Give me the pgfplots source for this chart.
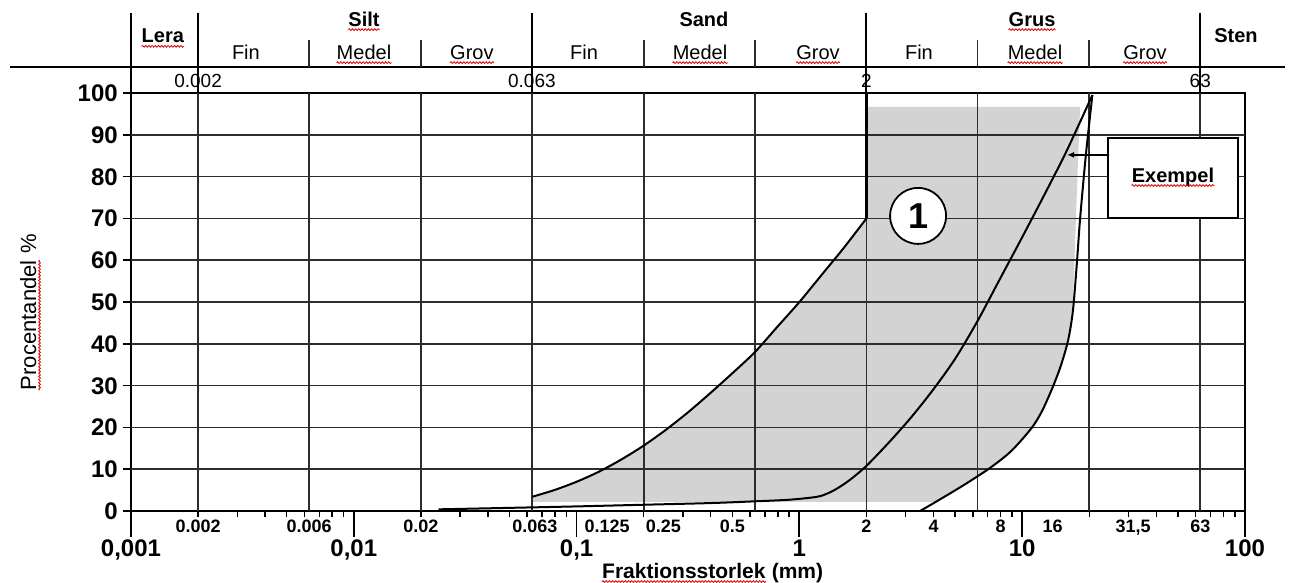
\documentclass[border=0pt]{standalone}
\usepackage{fontspec}
\setmainfont{Liberation Sans}
\usepackage{pgfplots}
\pgfplotsset{compat=1.18}
\usetikzlibrary{arrows.meta,decorations.pathmorphing}
\definecolor{zone}{RGB}{211,211,211}
\definecolor{gridc}{RGB}{45,45,45}
\newcommand{\fs}[1]{\fontsize{#1}{#1}\selectfont}
\tikzset{
  sq/.style={draw=red!85!black, line width=0.8pt, decorate, decoration={snake, amplitude=0.9pt, segment length=3.2pt}},
  hd/.style={anchor=base, inner sep=0pt, font=\fs{20}},
  hb/.style={anchor=base, inner sep=0pt, font=\fs{20}\bfseries},
  sl/.style={anchor=base, inner sep=0pt, font=\fs{18}\bfseries},
  ml/.style={anchor=base, inner sep=0pt, font=\fs{24}\bfseries},
  gl/.style={gridc, line width=1.7pt},
  cv/.style={black, line width=2pt, smooth, tension=0.5},
}
\begin{document}
\begin{tikzpicture}
\useasboundingbox (0,0) rectangle (1292pt,-583pt);
\fill[white] (0,0) rectangle (1292pt,-583pt);
\begin{axis}[
  at={(131pt,-511pt)}, anchor=south west,
  scale only axis, width=1114pt, height=418pt,
  xmode=log, xmin=0.001, xmax=100, ymin=0, ymax=100,
  clip=false,
  axis line style={line width=2.2pt, black},
  xtick={0.001,0.01,0.1,1,10,100}, xticklabels={},
  ytick={0,10,20,30,40,50,60,70,80,90,100}, yticklabels={},
  tick pos=left, tick align=outside,
  major tick length=8pt, minor tick length=6pt,
  tick style={black, line width=1.5pt},
]
% grey zone 1
\addplot[fill=zone, draw=none] coordinates {
(0.0631,2.2) (0.0631,3.4) (0.0794,5.0) (0.1,7.0) (0.1259,9.4) (0.1585,12.3) (0.1995,15.6) (0.2512,19.4) (0.3162,23.6) (0.3981,28.2) (0.5012,33.0) (0.631,38.0) (0.7943,44.0) (1.0,50.0) (1.259,56.5) (1.585,63.0) (2,70)
(2,96.7) (18.2,96.7) (17.7,80) (17.3,65) (16.9,50) (16.1,41) (14.96,35) (13.8,30) (12.3,24) (11,19.8) (8.91,14.3) (7.17,10.3) (5.62,6.6) (4.74,4.2) (4.1,2.2)
} -- cycle;
% grid
\pgfplotsinvokeforeach{10,20,30,40,50,60,70,80,90}{\draw[gl] (axis cs:0.001,#1) -- (axis cs:100,#1);}
\pgfplotsinvokeforeach{0.002,0.0063,0.02,0.063,0.2,0.63,2,6.3,20,63}{\draw[gl] (axis cs:#1,0) -- (axis cs:#1,100);}
% curves
\addplot[cv] coordinates {
(0.0631,3.4) (0.0794,5.0) (0.1,7.0) (0.1259,9.4) (0.1585,12.3) (0.1995,15.6) (0.2512,19.4) (0.3162,23.6) (0.3981,28.2) (0.5012,33.0) (0.631,38.0) (0.7943,44.0) (1.0,50.0) (1.259,56.5) (1.585,63.0) (2,70)};
\addplot[cv] coordinates {
(0.024,0.4) (0.045,0.7) (0.1,1.1) (0.2,1.5) (0.4,1.9) (0.62,2.3) (0.9,2.7) (1.2,3.4) (1.35,4.3) (1.5,5.6) (1.7,7.6) (2.0,10.8) (2.512,16.3) (3.162,22.3) (3.981,29.0) (5.012,36.5) (6.31,45.5) (7.943,55.5) (10.0,65.5) (12.59,75.7) (15.85,86.2) (20.65,99.5)};
\addplot[cv] coordinates {
(3.48,0) (3.98,1.8) (4.74,4.2) (5.62,6.6) (7.17,10.3) (8.91,14.3) (11,19.8) (12.3,24) (13.8,30) (14.96,35) (16.1,41) (16.9,48) (17.58,59) (18.2,70) (19.3,85) (20.65,99.5)};
\draw[black, line width=2.8pt] (axis cs:2,70) -- (axis cs:2,100);
% major ticks (long)
\pgfplotsinvokeforeach{0.001,0.01,0.1,1,10,100}{\draw[black, line width=1.8pt] (axis cs:#1,0) -- (axis cs:#1,-6.2);}
% header
\draw[black, line width=2.2pt] (axis cs:0.000286,106.22) -- (axis cs:151,106.22);
\pgfplotsinvokeforeach{0.001,0.002,0.063,2,63}{\draw[black, line width=2pt] (axis cs:#1,100) -- (axis cs:#1,119.1);}
\pgfplotsinvokeforeach{0.0063,0.02,0.2,0.63,6.3,20}{\draw[gl] (axis cs:#1,106.22) -- (axis cs:#1,112.7);}
\node[hb] (lera) at (axis cs:0.00139,112.0) {Lera};
\node[hb] (silt) at (axis cs:0.01111,116.0) {Silt};
\node[hb] at (axis cs:0.373,116.0) {Sand};
\node[hb] (grus) at (axis cs:11.07,116.0) {Grus};
\node[hb] at (axis cs:91.1,112.0) {Sten};
\node[hd] at (axis cs:0.00328,108.1) {Fin};
\node[hd] (m1) at (axis cs:0.01111,108.1) {Medel};
\node[hd] (g1) at (axis cs:0.0339,108.1) {Grov};
\node[hd] at (axis cs:0.108,108.1) {Fin};
\node[hd] (m2) at (axis cs:0.358,108.1) {Medel};
\node[hd] (g2) at (axis cs:1.212,108.1) {Grov};
\node[hd] at (axis cs:3.44,108.1) {Fin};
\node[hd] (m3) at (axis cs:11.42,108.1) {Medel};
\node[hd] (g3) at (axis cs:35.6,108.1) {Grov};
\pgfplotsinvokeforeach{lera,silt,grus,m1,m2,m3,g1,g2,g3}{\draw[sq] ([yshift=-3.5pt]#1.base west) -- ([yshift=-3.5pt]#1.base east);}
\node[anchor=base, inner sep=0pt, font=\fs{19}] at (axis cs:0.002,101.4) {0.002};
\node[anchor=base, inner sep=0pt, font=\fs{19}] at (axis cs:0.063,101.4) {0.063};
\node[anchor=base, inner sep=0pt, font=\fs{19}] at (axis cs:2,101.4) {2};
\node[anchor=base, inner sep=0pt, font=\fs{19}] at (axis cs:63,101.4) {63};
% y tick labels
\pgfplotsinvokeforeach{0,10,20,30,40,50,60,70,80,90,100}{\node[anchor=base east, inner sep=0pt, font=\fs{24}\bfseries] at ([xshift=-13pt, yshift=-8.5pt]axis cs:0.001,#1) {#1};}
% bottom small labels
\node[sl] at (axis cs:0.002,-5.26) {0.002};
\node[sl] at (axis cs:0.0063,-5.26) {0.006};
\node[sl] at (axis cs:0.02,-5.26) {0.02};
\node[sl] at (axis cs:0.065,-5.26) {0.063};
\node[sl] at (axis cs:0.137,-5.26) {0.125};
\node[sl] at (axis cs:0.245,-5.26) {0.25};
\node[sl] at (axis cs:0.5,-5.26) {0.5};
\node[sl] at (axis cs:2,-5.26) {2};
\node[sl] at (axis cs:4,-5.26) {4};
\node[sl] at (axis cs:8,-5.26) {8};
\node[sl] at (axis cs:13.7,-5.26) {16};
\node[sl] at (axis cs:31.5,-5.26) {31,5};
\node[sl] at (axis cs:63,-5.26) {63};
% major labels
\node[ml] at (axis cs:0.001,-11.0) {0,001};
\node[ml] at (axis cs:0.01,-11.0) {0,01};
\node[ml] at (axis cs:0.1,-11.0) {0,1};
\node[ml] at (axis cs:1,-11.0) {1};
\node[ml] at (axis cs:10,-11.0) {10};
\node[ml] at (axis cs:100,-11.0) {100};
% axis titles
\node[anchor=base west, inner sep=0pt, font=\fs{21}\bfseries] (fk) at (axis cs:0.13,-16.03) {Fraktionsstorlek};
\node[anchor=base west, inner sep=0pt, font=\fs{21}\bfseries] at ([xshift=5.8pt]fk.base east) {(mm)};
\draw[sq] ([yshift=-3.5pt]fk.base west) -- ([yshift=-3.5pt]fk.base east);
\node[rotate=90, anchor=base west, inner sep=0pt, font=\fs{22}] (pl) at (axis cs:0.000375,28.9) {Procentandel};
\node[rotate=90, anchor=base west, inner sep=0pt, font=\fs{22}] at ([yshift=6pt]pl.base east) {\%};
\draw[sq] ([xshift=3.5pt]pl.base west) -- ([xshift=3.5pt]pl.base east);
% annotations
\node[circle, draw=black, line width=1.8pt, fill=white, minimum size=56pt, inner sep=0pt, font=\fs{36}\bfseries] at (axis cs:3.41,70.6) {1};
\draw[black, line width=1.8pt, fill=white] (axis cs:24.3,89.2) rectangle (axis cs:93,70.1);
\node[hb] (ex) at (axis cs:47.5,78.7) {Exempel};
\draw[sq] ([yshift=-3.5pt]ex.base west) -- ([yshift=-3.5pt]ex.base east);
\draw[-{Latex[length=7pt,width=6pt]}, line width=1.4pt] (axis cs:24.3,85.2) -- (axis cs:15.9,85.2);
\end{axis}
\end{tikzpicture}
\end{document}
